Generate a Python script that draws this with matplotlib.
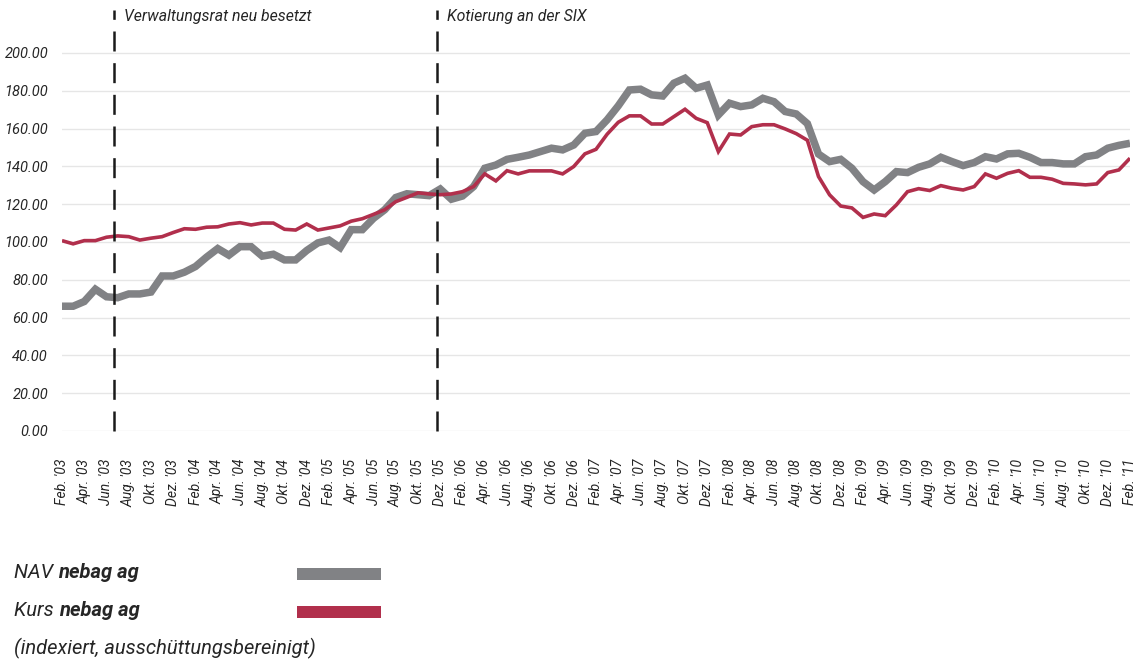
import matplotlib
matplotlib.use("Agg")
import matplotlib.pyplot as plt
import numpy as np

plt.rcParams['font.family'] = ['Roboto', 'DejaVu Sans']
plt.rcParams['lines.scale_dashes'] = False

# monthly values, Feb '03 .. Feb '11 (indexed)
nav = [66, 66, 68.5, 75, 71, 70.5, 72.5, 72.5, 73.5, 82,
       82, 84, 87, 92, 96.5, 93, 97.5, 97.5, 92.5, 93.5,
       90.5, 90.5, 95.5, 99.5, 101, 97, 106.5, 106.5, 112.5, 117,
       123.5, 125.5, 125, 124.5, 128, 122.6, 124.3, 129.3, 139, 140.7,
       143.7, 144.8, 146, 147.8, 149.6, 148.7, 151.3, 157.5, 158.4, 164.6,
       172, 180.4, 180.8, 177.8, 177.2, 184, 186.6, 181.3, 183, 167.2,
       173.4, 171.6, 172.5, 176, 174.2, 169, 167.7, 162.6, 146.5, 142.5,
       143.7, 139, 131.9, 127.5, 131.9, 137.2, 136.7, 139.5, 141.3, 144.8,
       142.5, 140.4, 142, 145.1, 143.9, 146.6, 146.9, 144.8, 142, 142,
       141.3, 141.3, 145.1, 146, 149.6, 151.1, 152.2]
kurs = [100.7, 99, 100.7, 100.7, 102.5, 103.2, 102.8, 101, 102, 102.8,
        105, 107, 106.7, 107.8, 108, 109.5, 110.2, 109, 110, 110,
        106.7, 106.3, 109.5, 106.3, 107.4, 108.5, 111, 112.3, 114.6, 117,
        121.3, 123.6, 126, 125.4, 125, 125.4, 126.6, 129.3, 136, 132.3,
        137.7, 136, 137.6, 137.6, 137.6, 136, 139.9, 146.6, 149, 157,
        163.3, 166.7, 166.7, 162.4, 162.4, 166.3, 170.2, 165.4, 163.1, 147.8,
        157.1, 156.6, 161, 162, 162, 159.8, 157.3, 153.8, 134.6, 124.9,
        119, 118, 113, 114.8, 113.9, 119.6, 126.6, 128.2, 127.2, 129.8,
        128.4, 127.5, 129.3, 136, 133.7, 136.3, 137.7, 134.2, 134.2, 133.2,
        131, 130.7, 130.2, 130.7, 136.7, 138.1, 144.3]

month_names = ["Feb.", "Apr.", "Jun.", "Aug.", "Okt.", "Dez."]
years = ["03", "04", "05", "06", "07", "08", "09", "10"]
tick_labels = [f"{m} '{y}" for y in years for m in month_names] + ["Feb. '11"]

events = ["Verwaltungsrat neu besetzt", "Kotierung an der SIX"]
event_pos = [4.7, 33.7]

yticks = [0, 20, 40, 60, 80, 100, 120, 140, 160, 180, 200]

gray = "#818285"
red = "#b12f4c"
txt = "#262626"

fig = plt.figure(figsize=(11.42, 6.65), dpi=100)
ax = fig.add_axes([62 / 1142, 1 - 431 / 665, (1130 - 62) / 1142, (431 - 10) / 665])

x = np.arange(len(nav))
ax.set_xlim(0, len(nav) - 1)
ax.set_ylim(0, 222.7)

for v in yticks:
    ax.axhline(v, color="#e6e6e6", lw=1.0, zorder=0)

ax.plot(x, nav, color=gray, lw=5.4, solid_joinstyle="miter", solid_capstyle="butt", zorder=3)
ax.plot(x, kurs, color=red, lw=2.6, solid_joinstyle="miter", solid_capstyle="butt", zorder=4)

for name, p in zip(events, event_pos):
    ax.plot([p, p], [0, 222.7], color="#1a1a1a", lw=1.8, dashes=(14.4, 8.4),
            solid_capstyle="butt", dash_capstyle="butt", zorder=5, clip_on=False)
    ax.text(p + 0.9, 219.3, name, fontsize=11.4, style="italic", color=txt,
            va="center", ha="left")

ax.set_yticks(yticks)
ax.set_yticklabels([f"{v:.2f}" for v in yticks], fontsize=10.5, style="italic", color=txt)
ax.set_xticks(np.arange(0, len(nav), 2))
ax.set_xticklabels(tick_labels, rotation=90, fontsize=10, style="italic", color=txt)
ax.tick_params(axis="y", length=0, pad=10)
ax.tick_params(axis="x", length=0, pad=20)
for s in ax.spines.values():
    s.set_visible(False)

# legend block
rend = fig.canvas.get_renderer()
rows = [("NAV ", "nebag ag", gray, 573), ("Kurs ", "nebag ag", red, 611)]
for lead, bold, col, yc in rows:
    t = fig.text(14 / 1142, 1 - yc / 665, lead, fontsize=14.5, style="italic",
                 color=txt, va="center", ha="left")
    bb = t.get_window_extent(rend)
    fig.text(bb.x1 / 1142, 1 - yc / 665, bold, fontsize=14.5, style="italic",
             weight="bold", color=txt, va="center", ha="left")
    fig.patches.append(plt.Rectangle((297 / 1142, 1 - (yc + 7) / 665), 84 / 1142, 12 / 665,
                                     transform=fig.transFigure, color=col, lw=0))
fig.text(14 / 1142, 1 - 648 / 665, "(indexiert, ausschüttungsbereinigt)", fontsize=14.5,
         style="italic", color=txt, va="center", ha="left")

fig.savefig("out.png", dpi=100)
